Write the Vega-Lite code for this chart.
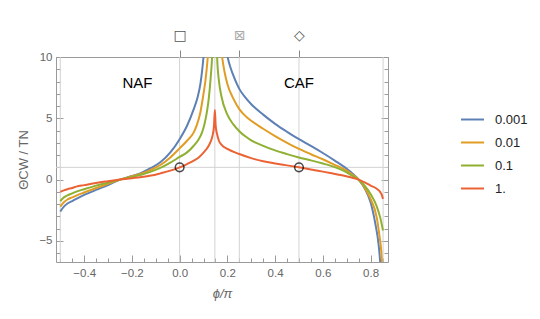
{
  "$schema": "https://vega.github.io/schema/vega-lite/v6.json",
  "width": 332,
  "height": 205,
  "autosize": "none",
  "padding": {"left": 56, "top": 57, "right": 152, "bottom": 57},
  "background": "white",
  "view": {"stroke": "#9a9a9a", "strokeWidth": 1},
  "config": {
    "axis": {"labelFont": "Liberation Sans", "titleFont": "Liberation Sans", "labelColor": "#666666", "titleColor": "#666666", "tickColor": "#9a9a9a", "domain": false, "grid": false, "titleFontWeight": "normal"}
  },
  "datasets": {
    "grid": [{"gx": -0.5}, {"gx": 0}, {"gx": 0.1476}, {"gx": 0.25}, {"gx": 0.5}, {"gx": 0.8524}],
    "hgrid": [{"gy": 1}],
    "pts": [{"x": 0, "y": 1}, {"x": 0.5, "y": 1}],
    "labels": [{"x": -0.177, "y": 7.9, "t": "NAF"}, {"x": 0.5, "y": 7.9, "t": "CAF"}],
    "curves": [
      {"s": "0.001", "x": -0.5, "y": -2.6}, {"s": "0.001", "x": -0.485, "y": -2.2}, {"s": "0.001", "x": -0.47, "y": -1.95}, {"s": "0.001", "x": -0.45, "y": -1.75}, {"s": "0.001", "x": -0.433, "y": -1.57}, {"s": "0.001", "x": -0.4, "y": -1.25}, {"s": "0.001", "x": -0.35, "y": -0.84}, {"s": "0.001", "x": -0.3, "y": -0.45}, {"s": "0.001", "x": -0.25, "y": 0}, {"s": "0.001", "x": -0.2, "y": 0.3}, {"s": "0.001", "x": -0.165, "y": 0.51}, {"s": "0.001", "x": -0.12, "y": 0.95}, {"s": "0.001", "x": -0.081, "y": 1.41}, {"s": "0.001", "x": -0.039, "y": 2.22}, {"s": "0.001", "x": 0, "y": 3.3}, {"s": "0.001", "x": 0.031, "y": 4.39}, {"s": "0.001", "x": 0.059, "y": 5.75}, {"s": "0.001", "x": 0.075, "y": 6.7}, {"s": "0.001", "x": 0.087, "y": 7.8}, {"s": "0.001", "x": 0.1, "y": 10}, {"s": "0.001", "x": 0.11, "y": 12.5}, {"s": "0.001", "x": 0.125, "y": 17}, {"s": "0.001", "x": 0.16, "y": 20}, {"s": "0.001", "x": 0.175, "y": 14}, {"s": "0.001", "x": 0.19, "y": 11.2}, {"s": "0.001", "x": 0.201, "y": 10}, {"s": "0.001", "x": 0.212, "y": 9.2}, {"s": "0.001", "x": 0.225, "y": 8.5}, {"s": "0.001", "x": 0.25, "y": 7.4}, {"s": "0.001", "x": 0.275, "y": 6.7}, {"s": "0.001", "x": 0.3, "y": 6.15}, {"s": "0.001", "x": 0.35, "y": 5.3}, {"s": "0.001", "x": 0.4, "y": 4.55}, {"s": "0.001", "x": 0.45, "y": 3.9}, {"s": "0.001", "x": 0.5, "y": 3.3}, {"s": "0.001", "x": 0.55, "y": 2.75}, {"s": "0.001", "x": 0.6, "y": 2.17}, {"s": "0.001", "x": 0.65, "y": 1.55}, {"s": "0.001", "x": 0.7, "y": 0.88}, {"s": "0.001", "x": 0.725, "y": 0.48}, {"s": "0.001", "x": 0.75, "y": 0}, {"s": "0.001", "x": 0.775, "y": -0.7}, {"s": "0.001", "x": 0.8, "y": -1.84}, {"s": "0.001", "x": 0.82, "y": -3.6}, {"s": "0.001", "x": 0.833, "y": -5.2}, {"s": "0.001", "x": 0.84, "y": -6.7}, {"s": "0.001", "x": 0.846, "y": -9},
      {"s": "0.01", "x": -0.5, "y": -2.2}, {"s": "0.01", "x": -0.485, "y": -1.85}, {"s": "0.01", "x": -0.47, "y": -1.62}, {"s": "0.01", "x": -0.45, "y": -1.45}, {"s": "0.01", "x": -0.433, "y": -1.3}, {"s": "0.01", "x": -0.4, "y": -1.05}, {"s": "0.01", "x": -0.35, "y": -0.68}, {"s": "0.01", "x": -0.3, "y": -0.35}, {"s": "0.01", "x": -0.25, "y": 0}, {"s": "0.01", "x": -0.2, "y": 0.27}, {"s": "0.01", "x": -0.165, "y": 0.46}, {"s": "0.01", "x": -0.12, "y": 0.8}, {"s": "0.01", "x": -0.081, "y": 1.19}, {"s": "0.01", "x": -0.039, "y": 1.81}, {"s": "0.01", "x": 0, "y": 2.55}, {"s": "0.01", "x": 0.031, "y": 3.17}, {"s": "0.01", "x": 0.059, "y": 3.85}, {"s": "0.01", "x": 0.073, "y": 4.5}, {"s": "0.01", "x": 0.087, "y": 5.5}, {"s": "0.01", "x": 0.1, "y": 7.0}, {"s": "0.01", "x": 0.108, "y": 8.05}, {"s": "0.01", "x": 0.118, "y": 10}, {"s": "0.01", "x": 0.13, "y": 13.5}, {"s": "0.01", "x": 0.16, "y": 14.5}, {"s": "0.01", "x": 0.17, "y": 11.5}, {"s": "0.01", "x": 0.178, "y": 10}, {"s": "0.01", "x": 0.188, "y": 8.8}, {"s": "0.01", "x": 0.2, "y": 7.8}, {"s": "0.01", "x": 0.225, "y": 6.6}, {"s": "0.01", "x": 0.25, "y": 5.75}, {"s": "0.01", "x": 0.275, "y": 5.2}, {"s": "0.01", "x": 0.3, "y": 4.8}, {"s": "0.01", "x": 0.35, "y": 4.15}, {"s": "0.01", "x": 0.4, "y": 3.55}, {"s": "0.01", "x": 0.45, "y": 3.0}, {"s": "0.01", "x": 0.5, "y": 2.5}, {"s": "0.01", "x": 0.55, "y": 2.07}, {"s": "0.01", "x": 0.6, "y": 1.66}, {"s": "0.01", "x": 0.645, "y": 1.25}, {"s": "0.01", "x": 0.694, "y": 0.79}, {"s": "0.01", "x": 0.72, "y": 0.45}, {"s": "0.01", "x": 0.75, "y": 0}, {"s": "0.01", "x": 0.775, "y": -0.65}, {"s": "0.01", "x": 0.8, "y": -1.57}, {"s": "0.01", "x": 0.827, "y": -3.2}, {"s": "0.01", "x": 0.838, "y": -4.7}, {"s": "0.01", "x": 0.845, "y": -5.9}, {"s": "0.01", "x": 0.849, "y": -7.2},
      {"s": "0.1", "x": -0.5, "y": -1.75}, {"s": "0.1", "x": -0.485, "y": -1.45}, {"s": "0.1", "x": -0.47, "y": -1.28}, {"s": "0.1", "x": -0.45, "y": -1.12}, {"s": "0.1", "x": -0.433, "y": -0.98}, {"s": "0.1", "x": -0.4, "y": -0.78}, {"s": "0.1", "x": -0.35, "y": -0.49}, {"s": "0.1", "x": -0.3, "y": -0.25}, {"s": "0.1", "x": -0.25, "y": 0}, {"s": "0.1", "x": -0.2, "y": 0.22}, {"s": "0.1", "x": -0.165, "y": 0.38}, {"s": "0.1", "x": -0.12, "y": 0.65}, {"s": "0.1", "x": -0.081, "y": 0.95}, {"s": "0.1", "x": -0.039, "y": 1.38}, {"s": "0.1", "x": 0, "y": 1.85}, {"s": "0.1", "x": 0.031, "y": 2.22}, {"s": "0.1", "x": 0.059, "y": 2.76}, {"s": "0.1", "x": 0.08, "y": 3.3}, {"s": "0.1", "x": 0.094, "y": 3.85}, {"s": "0.1", "x": 0.105, "y": 4.6}, {"s": "0.1", "x": 0.115, "y": 5.6}, {"s": "0.1", "x": 0.122, "y": 6.6}, {"s": "0.1", "x": 0.13, "y": 8.3}, {"s": "0.1", "x": 0.136, "y": 10}, {"s": "0.1", "x": 0.142, "y": 13.5}, {"s": "0.1", "x": 0.153, "y": 13.5}, {"s": "0.1", "x": 0.157, "y": 10}, {"s": "0.1", "x": 0.165, "y": 8.0}, {"s": "0.1", "x": 0.175, "y": 6.8}, {"s": "0.1", "x": 0.2, "y": 5.3}, {"s": "0.1", "x": 0.225, "y": 4.5}, {"s": "0.1", "x": 0.25, "y": 3.95}, {"s": "0.1", "x": 0.275, "y": 3.53}, {"s": "0.1", "x": 0.3, "y": 3.2}, {"s": "0.1", "x": 0.35, "y": 2.75}, {"s": "0.1", "x": 0.4, "y": 2.38}, {"s": "0.1", "x": 0.45, "y": 2.08}, {"s": "0.1", "x": 0.5, "y": 1.81}, {"s": "0.1", "x": 0.55, "y": 1.57}, {"s": "0.1", "x": 0.6, "y": 1.31}, {"s": "0.1", "x": 0.631, "y": 1.14}, {"s": "0.1", "x": 0.694, "y": 0.65}, {"s": "0.1", "x": 0.72, "y": 0.35}, {"s": "0.1", "x": 0.75, "y": 0}, {"s": "0.1", "x": 0.775, "y": -0.5}, {"s": "0.1", "x": 0.8, "y": -1.17}, {"s": "0.1", "x": 0.827, "y": -2.25}, {"s": "0.1", "x": 0.84, "y": -3.06}, {"s": "0.1", "x": 0.852, "y": -4.15},
      {"s": "1.", "x": -0.5, "y": -1.0}, {"s": "1.", "x": -0.485, "y": -0.88}, {"s": "1.", "x": -0.47, "y": -0.78}, {"s": "1.", "x": -0.45, "y": -0.68}, {"s": "1.", "x": -0.433, "y": -0.57}, {"s": "1.", "x": -0.4, "y": -0.45}, {"s": "1.", "x": -0.35, "y": -0.27}, {"s": "1.", "x": -0.3, "y": -0.13}, {"s": "1.", "x": -0.25, "y": 0}, {"s": "1.", "x": -0.2, "y": 0.12}, {"s": "1.", "x": -0.165, "y": 0.2}, {"s": "1.", "x": -0.12, "y": 0.33}, {"s": "1.", "x": -0.081, "y": 0.51}, {"s": "1.", "x": -0.039, "y": 0.73}, {"s": "1.", "x": 0, "y": 1.0}, {"s": "1.", "x": 0.031, "y": 1.27}, {"s": "1.", "x": 0.059, "y": 1.54}, {"s": "1.", "x": 0.08, "y": 1.8}, {"s": "1.", "x": 0.1, "y": 2.2}, {"s": "1.", "x": 0.12, "y": 2.7}, {"s": "1.", "x": 0.13, "y": 3.1}, {"s": "1.", "x": 0.138, "y": 3.6}, {"s": "1.", "x": 0.144, "y": 4.4}, {"s": "1.", "x": 0.1476, "y": 5.67}, {"s": "1.", "x": 0.151, "y": 4.4}, {"s": "1.", "x": 0.157, "y": 3.7}, {"s": "1.", "x": 0.165, "y": 3.15}, {"s": "1.", "x": 0.175, "y": 2.85}, {"s": "1.", "x": 0.2, "y": 2.5}, {"s": "1.", "x": 0.25, "y": 2.09}, {"s": "1.", "x": 0.3, "y": 1.75}, {"s": "1.", "x": 0.35, "y": 1.5}, {"s": "1.", "x": 0.4, "y": 1.32}, {"s": "1.", "x": 0.45, "y": 1.16}, {"s": "1.", "x": 0.5, "y": 1.0}, {"s": "1.", "x": 0.55, "y": 0.83}, {"s": "1.", "x": 0.6, "y": 0.65}, {"s": "1.", "x": 0.631, "y": 0.54}, {"s": "1.", "x": 0.694, "y": 0.3}, {"s": "1.", "x": 0.72, "y": 0.17}, {"s": "1.", "x": 0.75, "y": 0}, {"s": "1.", "x": 0.775, "y": -0.22}, {"s": "1.", "x": 0.8, "y": -0.49}, {"s": "1.", "x": 0.827, "y": -0.76}, {"s": "1.", "x": 0.84, "y": -1.0}, {"s": "1.", "x": 0.847, "y": -1.25}, {"s": "1.", "x": 0.852, "y": -1.57}
    ]
  },
  "resolve": {"axis": {"x": "independent", "y": "independent"}},
  "layer": [
    {
      "data": {"name": "grid"},
      "mark": {"type": "rule", "color": "#d2d2d2", "strokeWidth": 1},
      "encoding": {
        "x": {"field": "gx", "type": "quantitative", "scale": {"domain": [-0.518, 0.873], "nice": false, "zero": false},
          "axis": {"orient": "bottom", "values": [-0.4, -0.2, 0, 0.2, 0.4, 0.6, 0.8], "format": ".1f", "tickSize": -7, "labelPadding": 12, "labelFontSize": 11.5, "title": "ϕ/π", "titleFontStyle": "italic", "titleFontSize": 13, "titlePadding": 9}}
      }
    },
    {
      "data": {"name": "hgrid"},
      "mark": {"type": "rule", "color": "#d2d2d2", "strokeWidth": 1},
      "encoding": {
        "y": {"field": "gy", "type": "quantitative", "scale": {"domain": [-6.72, 10], "nice": false, "zero": false},
          "axis": {"orient": "left", "values": [-5, 0, 5, 10], "format": "d", "tickSize": -7, "labelPadding": 11, "labelFontSize": 11.5, "title": "ΘCW / TN", "titleFontSize": 13, "titlePadding": 8}}
      }
    },
    {
      "data": {"name": "curves"},
      "mark": {"type": "line", "strokeWidth": 2, "clip": true, "interpolate": "monotone"},
      "encoding": {
        "x": {"field": "x", "type": "quantitative", "scale": {"domain": [-0.518, 0.873], "nice": false, "zero": false},
          "axis": {"orient": "bottom", "values": [-0.5, -0.45, -0.4, -0.35, -0.3, -0.25, -0.2, -0.15, -0.1, -0.05, 0, 0.05, 0.1, 0.15, 0.2, 0.25, 0.3, 0.35, 0.4, 0.45, 0.5, 0.55, 0.6, 0.65, 0.7, 0.75, 0.8, 0.85], "tickSize": -4, "labels": false, "title": null}},
        "y": {"field": "y", "type": "quantitative", "scale": {"domain": [-6.72, 10], "nice": false, "zero": false},
          "axis": {"orient": "left", "values": [-6, -5, -4, -3, -2, -1, 0, 1, 2, 3, 4, 5, 6, 7, 8, 9, 10], "tickSize": -4, "labels": false, "title": null}},
        "color": {"field": "s", "type": "nominal",
          "scale": {"domain": ["0.001", "0.01", "0.1", "1."], "range": ["#5E81B5", "#E19C24", "#8FB032", "#EB6235"]},
          "legend": {"orient": "none", "legendX": 404, "legendY": 50, "title": null, "symbolType": "stroke", "symbolStrokeWidth": 2, "symbolSize": 529, "labelFontSize": 13, "labelFont": "Liberation Sans", "labelColor": "#222222", "rowPadding": 3, "labelOffset": 10}},
        "order": {"field": "x", "type": "quantitative"}
      }
    },
    {
      "data": {"name": "pts"},
      "mark": {"type": "point", "shape": "circle", "filled": false, "stroke": "black", "strokeWidth": 1.5, "size": 75},
      "encoding": {
        "x": {"field": "x", "type": "quantitative", "scale": {"domain": [-0.518, 0.873], "nice": false, "zero": false},
          "axis": {"orient": "top", "values": [0, 0.25, 0.5], "tickSize": 7, "tickColor": "#888888", "labelExpr": "datum.value == 0 ? '□' : (datum.value == 0.5 ? '◇' : '⊠')", "labelFont": "DejaVu Sans", "labelFontSize": 14, "labelPadding": 8, "labelColor": {"condition": {"test": "datum.value == 0.25", "value": "#aaaaaa"}, "value": "#555555"}, "title": null}},
        "y": {"field": "y", "type": "quantitative", "scale": {"domain": [-6.72, 10], "nice": false, "zero": false},
          "axis": {"orient": "right", "values": [-5, 0, 5, 10], "tickSize": -7, "labels": false, "title": null}}
      }
    },
    {
      "data": {"name": "labels"},
      "mark": {"type": "text", "font": "Liberation Sans", "fontSize": 15, "color": "black"},
      "encoding": {
        "x": {"field": "x", "type": "quantitative", "scale": {"domain": [-0.518, 0.873], "nice": false, "zero": false}, "axis": null},
        "y": {"field": "y", "type": "quantitative", "scale": {"domain": [-6.72, 10], "nice": false, "zero": false},
          "axis": {"orient": "right", "values": [-6, -5, -4, -3, -2, -1, 0, 1, 2, 3, 4, 5, 6, 7, 8, 9, 10], "tickSize": -4, "labels": false, "title": null}},
        "text": {"field": "t"}
      }
    }
  ]
}
